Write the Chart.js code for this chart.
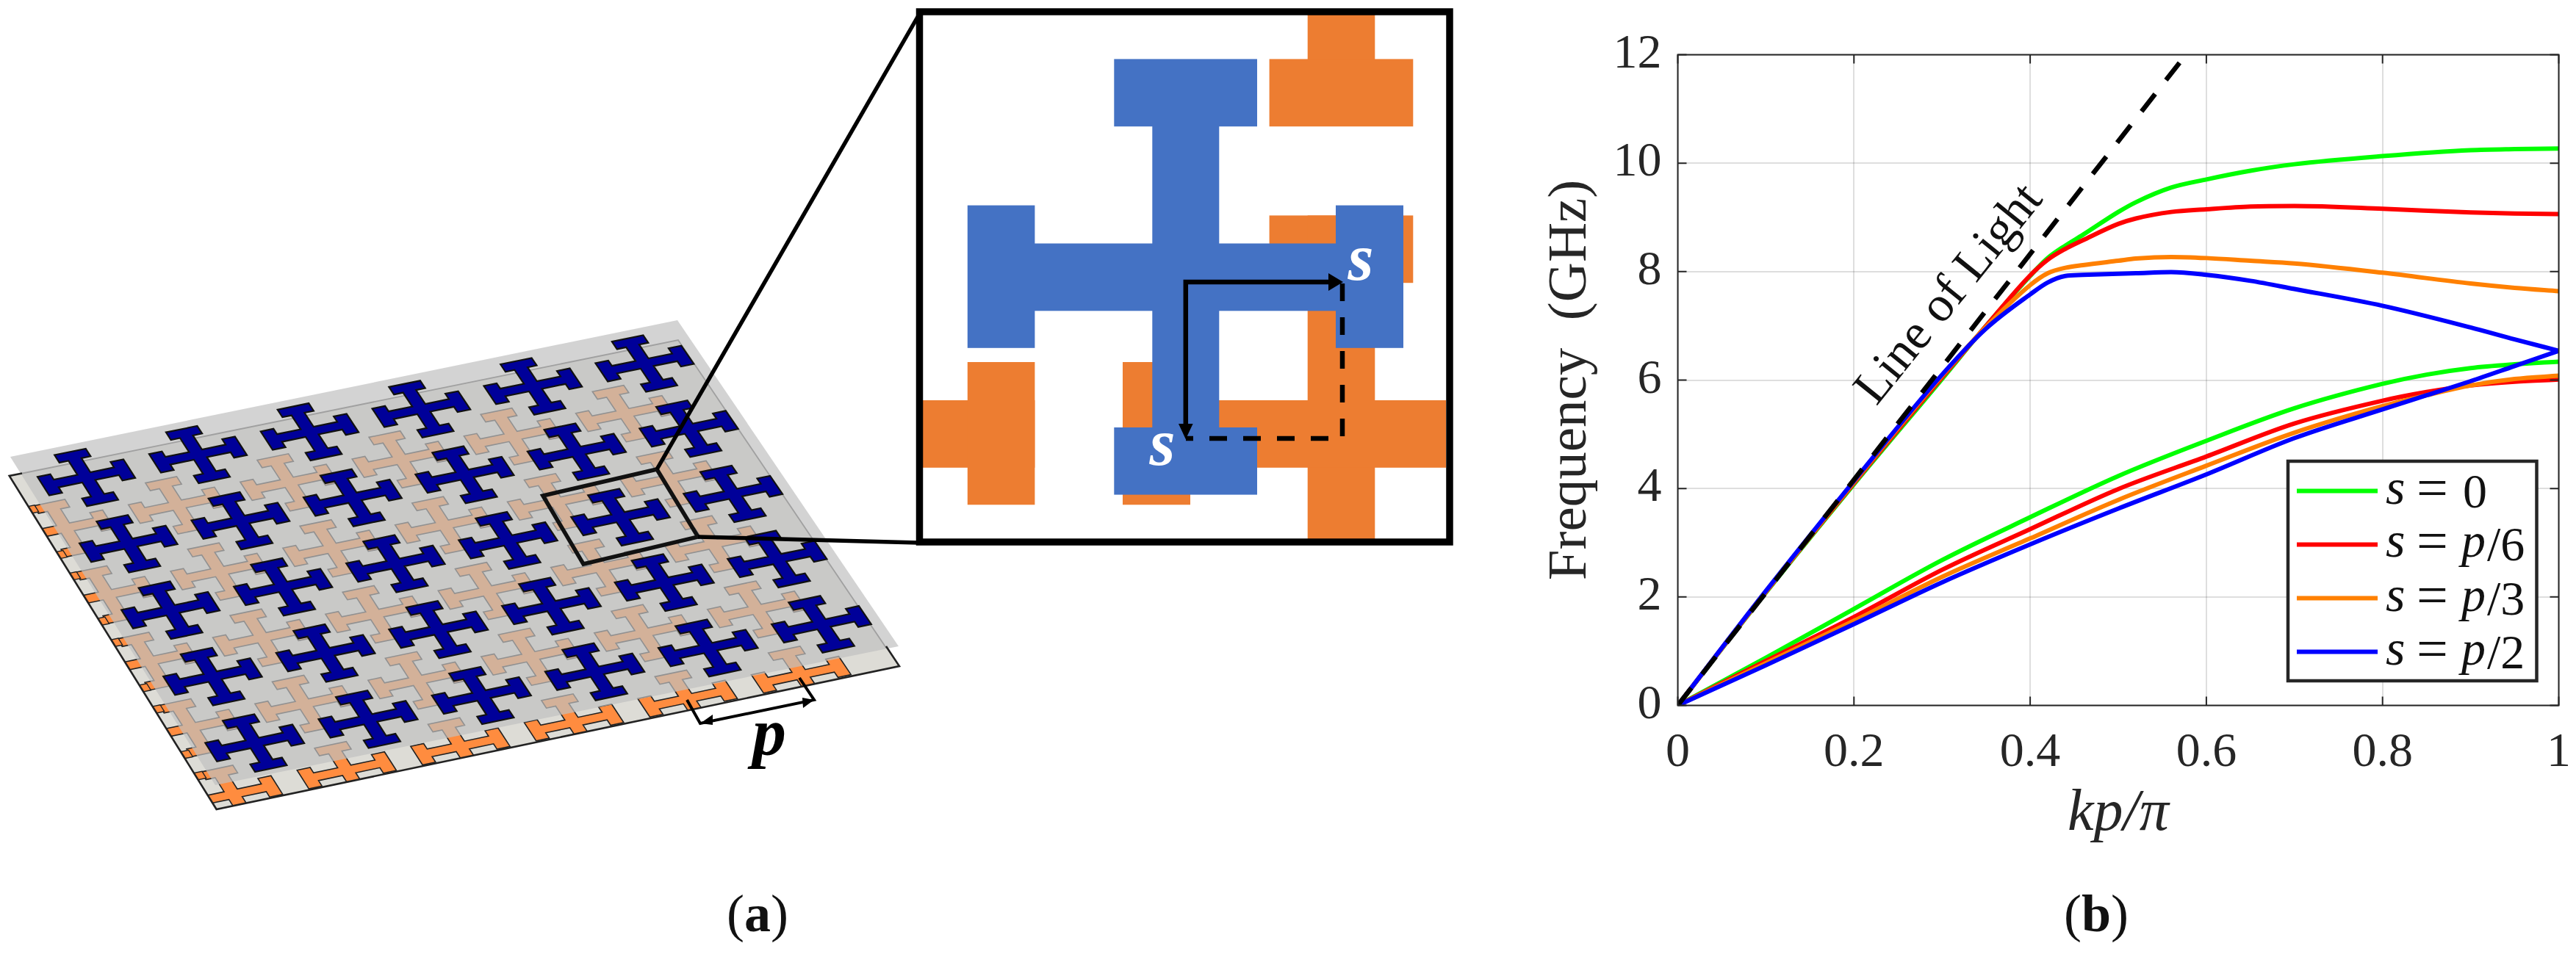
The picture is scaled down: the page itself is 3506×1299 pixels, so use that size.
<!DOCTYPE html>
<html>
<head>
<meta charset="utf-8">
<title>Dispersion of the glide-shifted cross unit cell</title>
<script src="https://cdn.jsdelivr.net/npm/chart.js@4/dist/chart.umd.min.js"></script>
<style>
  html, body { margin: 0; padding: 0; background: #fff; width: 3506px; height: 1299px; overflow: hidden; }
  #schematic { position: absolute; left: 0; top: 0; }
  #chart { position: absolute; left: 2000px; top: 0; }
  .caption { position: absolute; top: 1203px; font: 72px "Liberation Serif", serif; color: #111; transform: translateX(-50%); }
</style>
</head>
<body>
<svg id="schematic" width="2000" height="1299" xmlns="http://www.w3.org/2000/svg"></svg>
<canvas id="chart" width="1506" height="1299"></canvas>
<div class="caption" style="left:1031px">(<b>a</b>)</div>
<div class="caption" style="left:2853px">(<b>b</b>)</div>
<script>
// values
const kUpper = [0, 0.1, 0.2, 0.3, 0.35, 0.4, 0.42, 0.44, 0.46, 0.5, 0.52, 0.56, 0.6, 0.65, 0.7, 0.8, 0.9, 0.95, 1];
const kLower = [0, 0.1, 0.2, 0.3, 0.4, 0.5, 0.6, 0.7, 0.8, 0.85, 0.9, 0.95, 1];
const upperS0 = [0, 2.08, 4.08, 6.02, 7.0, 7.92, 8.25, 8.48, 8.68, 9.1, 9.28, 9.55, 9.7, 9.86, 9.98, 10.13, 10.24, 10.26, 10.27];
const upperS6 = [0, 2.09, 4.1, 6.05, 7.0, 7.93, 8.22, 8.42, 8.58, 8.88, 8.98, 9.1, 9.15, 9.2, 9.21, 9.16, 9.09, 9.07, 9.06];
const upperS3 = [0, 2.1, 4.12, 6.08, 6.98, 7.75, 7.97, 8.07, 8.12, 8.2, 8.24, 8.27, 8.25, 8.2, 8.15, 7.98, 7.78, 7.7, 7.64];
const upperS2 = [0, 2.11, 4.14, 6.1, 6.95, 7.58, 7.8, 7.92, 7.94, 7.96, 7.97, 7.99, 7.94, 7.83, 7.68, 7.37, 6.97, 6.75, 6.54];
const lowerS0 = [0, 0.88, 1.78, 2.68, 3.47, 4.23, 4.88, 5.48, 5.93, 6.1, 6.22, 6.29, 6.34];
const lowerS6 = [0, 0.82, 1.63, 2.5, 3.25, 3.99, 4.59, 5.2, 5.62, 5.78, 5.9, 5.97, 6.01];
const lowerS3 = [0, 0.78, 1.56, 2.37, 3.08, 3.79, 4.42, 5.03, 5.52, 5.72, 5.9, 6.02, 6.08];
const lowerS2 = [0, 0.74, 1.5, 2.27, 2.97, 3.63, 4.26, 4.93, 5.46, 5.72, 5.98, 6.26, 6.54];
const lightK = [0, 0.5767];
const lightF = [0, 12];
const lightLabelAt = [0.309, 7.57];
const seriesNames = ['0', 'p/6', 'p/3', 'p/2'];
const seriesColors = ['#00ff00', '#ff0000', '#ff8000', '#0000ff'];
const xTicks = [0, 0.2, 0.4, 0.6, 0.8, 1];
const yTicks = [0, 2, 4, 6, 8, 10, 12];

const SERIF = '"Liberation Serif", serif';
const INK = '#262626';

// ---- panel (a): board and zoomed unit cell ----
const svg = document.getElementById('schematic');
function add(tag, attrs, parent) {
  const el = document.createElementNS('http://www.w3.org/2000/svg', tag);
  for (const k in attrs) el.setAttribute(k, attrs[k]);
  (parent || svg).appendChild(el);
  return el;
}
function pts(list) { return list.map(p => p[0].toFixed(1) + ',' + p[1].toFixed(1)).join(' '); }

// cell centre corners, u along the columns (0..5), v along the rows (0..4)
const C00 = [117.5, 650], C05 = [877.3, 495], C40 = [346.7, 1011.7], C45 = [1118, 850];
function P(u, v) {
  const a = u / 5, b = v / 4;
  return [0, 1].map(i => C00[i] * (1 - a) * (1 - b) + C05[i] * a * (1 - b) + C40[i] * (1 - a) * b + C45[i] * a * b);
}
function crossOutline(hs, a, cl, ct) {
  const inner = hs - ct;
  return [
    [-cl, -hs], [cl, -hs], [cl, -inner], [a, -inner], [a, -a],
    [inner, -a], [inner, -cl], [hs, -cl], [hs, cl], [inner, cl], [inner, a],
    [a, a], [a, inner], [cl, inner], [cl, hs], [-cl, hs], [-cl, inner], [-a, inner], [-a, a],
    [-inner, a], [-inner, cl], [-hs, cl], [-hs, -cl], [-inner, -cl], [-inner, -a],
    [-a, -a], [-a, -inner], [-cl, -inner]
  ];
}
const boardCross = crossOutline(0.385, 0.058, 0.14, 0.115);
function boardPoly(cu, cv) { return pts(boardCross.map(q => P(cu + q[0], cv + q[1]))); }

// lower sheet with the orange layer, upper sheet is a see-through gray shifted up
const basePlate = [[12.7, 648], [923, 463], [1224, 907], [294.6, 1102]];
const upperPlate = [[14, 622], [922, 436], [1223, 880], [293, 1069]];

add('polygon', { points: pts(basePlate), fill: '#dddcd6' });
const defs = add('defs', {});
const clip = add('clipPath', { id: 'baseClip' }, defs);
add('polygon', { points: pts(basePlate) }, clip);
const lower = add('g', { 'clip-path': 'url(#baseClip)' });
for (let r = 0; r < 5; r++) {
  for (let c = -1; c < 5; c++) {
    add('polygon', { points: boardPoly(c + 0.58, r + 0.62), fill: '#ff8c3f', stroke: '#222', 'stroke-width': 1.6 }, lower);
  }
  // short stubs that stick out on the left strip
  [-0.34, 0.34].forEach(d => {
    add('polygon', {
      points: pts([P(-0.68, r + 0.62 + d - 0.05), P(-0.55, r + 0.62 + d - 0.05), P(-0.55, r + 0.62 + d + 0.05), P(-0.68, r + 0.62 + d + 0.05)]),
      fill: '#ff8c3f', stroke: '#222', 'stroke-width': 1.4
    }, lower);
  });
}
add('polyline', { points: pts([[28, 645], basePlate[1], [1206, 882]]), fill: 'none', stroke: '#555', 'stroke-width': 1.8 });
add('polygon', { points: pts(upperPlate), fill: 'rgb(193,193,193)', 'fill-opacity': 0.7 });
for (let r = 0; r < 5; r++) {
  for (let c = 0; c < 6; c++) {
    add('polygon', { points: boardPoly(c, r), fill: '#000099', stroke: '#111', 'stroke-width': 2.2 });
  }
}
add('polyline', { points: pts([[30, 644.5], basePlate[0], basePlate[3], basePlate[2], [1206, 880]]), fill: 'none', stroke: '#222', 'stroke-width': 2.6 });

// period marker
const black = { stroke: '#000', 'stroke-width': 4, fill: 'none' };
add('polyline', Object.assign({ points: pts([[935, 953], [953, 985], [1108, 953], [1088, 923]]) }, black));
add('polygon', { points: pts([[953, 985], [970, 973], [970, 987]]), fill: '#000' });
add('polygon', { points: pts([[1108, 953], [1092, 950], [1093, 964]]), fill: '#000' });
const pLabel = add('text', { x: 1047, y: 1028, 'text-anchor': 'middle', 'font-family': SERIF, 'font-size': 92, 'font-weight': 'bold', 'font-style': 'italic', fill: '#000' });
pLabel.textContent = 'p';

// zoom box and leader lines
add('polygon', { points: pts([[739, 675], [894, 639], [950, 731], [794, 768]]), fill: 'none', stroke: '#111', 'stroke-width': 5.5 });
add('line', { x1: 894, y1: 639, x2: 1253, y2: 16, stroke: '#000', 'stroke-width': 5.5 });
add('line', { x1: 950, y1: 731, x2: 1250, y2: 739, stroke: '#000', 'stroke-width': 5.5 });

// inset
add('rect', { x: 1251.5, y: 16, width: 721.5, height: 722, fill: '#fff' });
const insetClip = add('clipPath', { id: 'insetClip' }, defs);
add('rect', { x: 1256, y: 20, width: 712, height: 714 }, insetClip);
const inset = add('g', { 'clip-path': 'url(#insetClip)' });
const ORANGE = '#ed7d31', BLUE = '#4472c4';
function box(x0, y0, x1, y1, fill) { add('rect', { x: x0, y: y0, width: x1 - x0, height: y1 - y0, fill }, inset); }
box(1779.7, 10, 1871.3, 172, ORANGE);
box(1727.6, 80.4, 1923.3, 172.2, ORANGE);
box(1727.6, 293.4, 1923.3, 385.2, ORANGE);
box(1779.7, 293.4, 1871.3, 750, ORANGE);
box(1528, 545, 1980, 636.8, ORANGE);
box(1528, 493, 1620, 687.3, ORANGE);
box(1240, 545, 1408.4, 636.8, ORANGE);
box(1316.8, 493, 1408.4, 687.3, ORANGE);
box(1516.3, 80.4, 1711, 172.2, BLUE);
box(1568.3, 172, 1659.3, 582, BLUE);
box(1516.3, 582, 1711, 673.6, BLUE);
box(1316.8, 279.6, 1408.4, 473.8, BLUE);
box(1408, 331.5, 1818, 423.3, BLUE);
box(1818, 279.6, 1910, 473.8, BLUE);
add('rect', { x: 1251.5, y: 16, width: 721.5, height: 722, fill: 'none', stroke: '#000', 'stroke-width': 9.5 });

add('polyline', { points: pts([[1613.8, 590], [1613.8, 384], [1815, 384]]), fill: 'none', stroke: '#000', 'stroke-width': 6.5 });
add('polygon', { points: pts([[1828, 384], [1808, 372], [1808, 396]]), fill: '#000' });
add('polygon', { points: pts([[1613.8, 598], [1604, 577], [1623.6, 577]]), fill: '#000' });
add('polyline', { points: pts([[1827, 386], [1827, 597], [1614, 597]]), fill: 'none', stroke: '#000', 'stroke-width': 6.5, 'stroke-dasharray': '24 22' });
[[1852, 381], [1582, 633]].forEach(q => {
  const t = add('text', { x: q[0], y: q[1], 'text-anchor': 'middle', 'font-family': SERIF, 'font-size': 90, 'font-weight': 'bold', 'font-style': 'italic', fill: '#fff' });
  t.textContent = 's';
});

// ---- panel (b): dispersion chart ----
function xy(xs, ys) { return xs.map((x, i) => ({ x, y: ys[i] })); }
function curve(xs, ys, color, order) {
  return { data: xy(xs, ys), borderColor: color, borderWidth: 6, pointRadius: 0, fill: false, cubicInterpolationMode: 'monotone', order };
}
const datasets = [
  curve(kLower, lowerS0, seriesColors[0], 9), curve(kUpper, upperS0, seriesColors[0], 9),
  curve(kLower, lowerS6, seriesColors[1], 8), curve(kUpper, upperS6, seriesColors[1], 8),
  curve(kLower, lowerS3, seriesColors[2], 7), curve(kUpper, upperS3, seriesColors[2], 7),
  curve(kLower, lowerS2, seriesColors[3], 6), curve(kUpper, upperS2, seriesColors[3], 6),
  { data: xy(lightK, lightF), borderColor: '#000', borderWidth: 6.5, borderDash: [30, 24], pointRadius: 0, fill: false, order: 1 }
];

// MATLAB style box: top and right edges, ticks pointing inside
const boxPlugin = {
  id: 'matlabBox',
  afterDatasetsDraw(chart) {
    const { ctx, chartArea: a, scales: { x, y } } = chart;
    ctx.save();
    ctx.strokeStyle = INK;
    ctx.lineWidth = 2;
    ctx.strokeRect(a.left, a.top, a.right - a.left, a.bottom - a.top);
    ctx.beginPath();
    xTicks.forEach(t => {
      const px = x.getPixelForValue(t);
      ctx.moveTo(px, a.bottom); ctx.lineTo(px, a.bottom - 12);
      ctx.moveTo(px, a.top); ctx.lineTo(px, a.top + 12);
    });
    yTicks.forEach(t => {
      const py = y.getPixelForValue(t);
      ctx.moveTo(a.left, py); ctx.lineTo(a.left + 12, py);
      ctx.moveTo(a.right, py); ctx.lineTo(a.right - 12, py);
    });
    ctx.stroke();
    ctx.restore();
  }
};
const annotationPlugin = {
  id: 'lightLabel',
  afterDraw(chart) {
    const { ctx, scales: { x, y } } = chart;
    ctx.save();
    ctx.translate(x.getPixelForValue(lightLabelAt[0]), y.getPixelForValue(lightLabelAt[1]));
    ctx.rotate(-51 * Math.PI / 180);
    ctx.font = '68px ' + SERIF;
    ctx.fillStyle = '#111';
    ctx.textAlign = 'center';
    ctx.textBaseline = 'middle';
    ctx.fillText('Line of Light', 0, 0);
    ctx.restore();
  }
};
// legend drawn from the series names and colours, the math needs mixed fonts
const legendPlugin = {
  id: 'mathLegend',
  afterDraw(chart) {
    const { ctx } = chart;
    const left = 1114, top = 628, right = 1452.5, bottom = 927, lineL = 1126, lineR = 1236;
    const rowY = [668.6, 741.4, 814.6, 887.5];
    ctx.save();
    ctx.fillStyle = '#fff';
    ctx.strokeStyle = INK;
    ctx.lineWidth = 4.5;
    ctx.fillRect(left, top, right - left, bottom - top);
    ctx.strokeRect(left, top, right - left, bottom - top);
    ctx.textBaseline = 'alphabetic';
    seriesNames.forEach((name, i) => {
      const yy = rowY[i];
      ctx.strokeStyle = seriesColors[i];
      ctx.lineWidth = 6;
      ctx.beginPath(); ctx.moveTo(lineL, yy); ctx.lineTo(lineR, yy); ctx.stroke();
      ctx.fillStyle = '#111';
      ctx.font = 'italic 68px ' + SERIF;
      ctx.fillText('s', 1247, yy + 17);
      ctx.font = '76px ' + SERIF;
      ctx.fillText('=', 1289, yy + 21);
      ctx.font = '66px ' + SERIF;
      if (name === '0') {
        ctx.fillText(name, 1352, yy + 22);
      } else {
        ctx.font = 'italic 66px ' + SERIF;
        ctx.fillText('p', 1350, yy + 17);
        ctx.font = '66px ' + SERIF;
        ctx.fillText(name.slice(1), 1385, yy + 22);
      }
    });
    ctx.restore();
  }
};

new Chart(document.getElementById('chart'), {
  type: 'line',
  data: { datasets },
  plugins: [boxPlugin, annotationPlugin, legendPlugin],
  options: {
    responsive: false,
    animation: false,
    devicePixelRatio: 1,
    layout: { padding: { left: 0, top: 74.5, right: 23.5, bottom: 142.5 } },
    plugins: { legend: { display: false }, tooltip: { enabled: false } },
    scales: {
      x: {
        type: 'linear',
        min: 0,
        max: 1,
        afterBuildTicks(s) { s.ticks = xTicks.map(value => ({ value })); },
        afterFit(s) { s.height = 196; s.paddingLeft = 0; s.paddingRight = 0; },
        border: { display: false },
        grid: { color: 'rgba(0,0,0,0.13)', lineWidth: 2, tickLength: 0, drawTicks: false },
        ticks: { color: INK, padding: 26, maxRotation: 0, autoSkip: false, font: { family: SERIF, size: 66 }, callback: v => String(v) },
        title: { display: true, text: 'kp/π', color: INK, padding: { top: 8, bottom: 0 }, font: { family: SERIF, size: 80, style: 'italic' } }
      },
      y: {
        type: 'linear',
        min: 0,
        max: 12,
        afterBuildTicks(s) { s.ticks = yTicks.map(value => ({ value })); },
        afterFit(s) { s.width = 283.5; s.paddingTop = 0; s.paddingBottom = 0; },
        border: { display: false },
        grid: { color: 'rgba(0,0,0,0.13)', lineWidth: 2, tickLength: 0, drawTicks: false },
        ticks: { color: INK, padding: 22, autoSkip: false, font: { family: SERIF, size: 66 }, callback: v => String(v) },
        title: { display: true, text: 'Frequency  (GHz)', color: INK, padding: { top: 93, bottom: 0 }, font: { family: SERIF, size: 75 } }
      }
    }
  }
});
</script>
</body>
</html>
